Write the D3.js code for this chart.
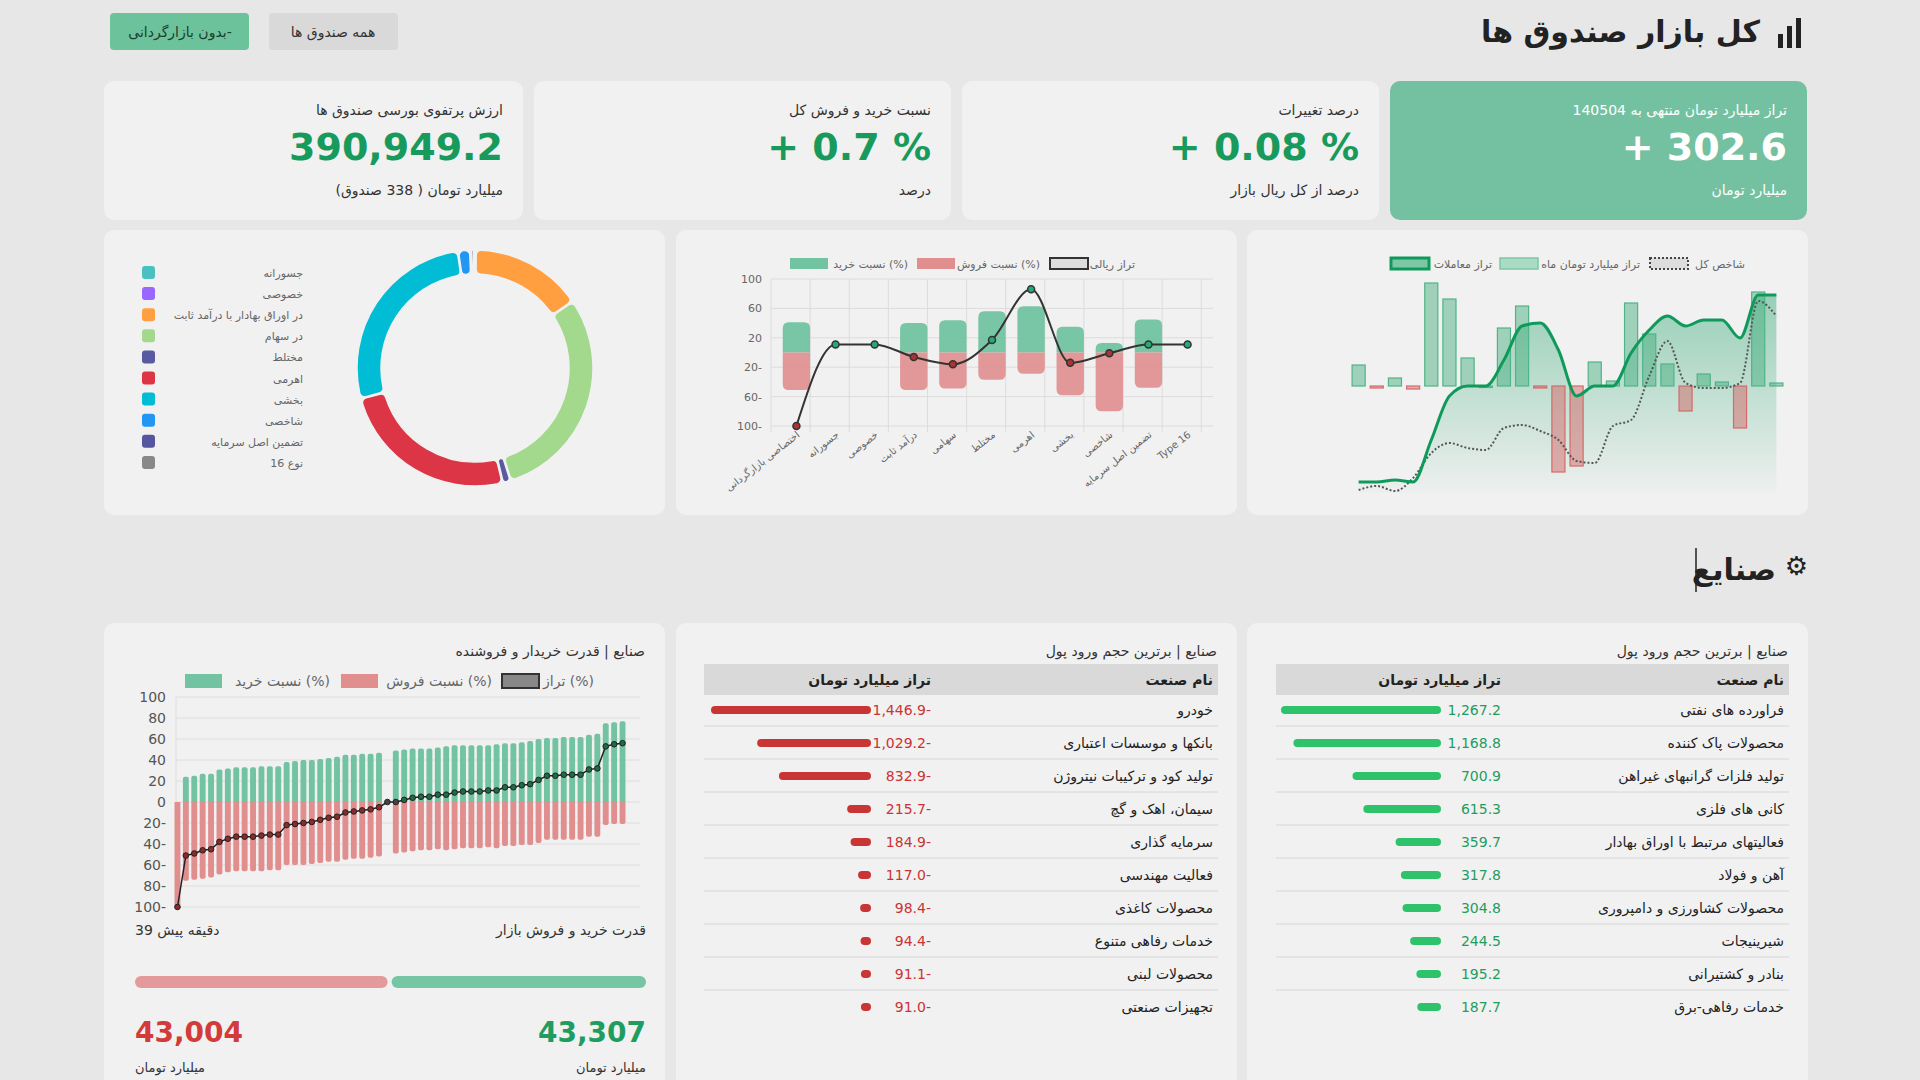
<!DOCTYPE html>
<html><head><meta charset="utf-8">
<script src="https://cdn.jsdelivr.net/npm/d3@7"></script>
<style>body{margin:0;background:#e7e7e7;font-family:"DejaVu Sans",sans-serif}svg text{font-family:"DejaVu Sans",sans-serif}</style>
</head><body><svg id="c" width="1920" height="1080"></svg>
<script>
// ---------- data ----------
const kpiTitles=["ارزش پرتفوی بورسی صندوق ها","نسبت خرید و فروش کل","درصد تغییرات","تراز میلیارد تومان منتهی به 140504"];
const kpiValues=["390,949.2","+ 0.7 %","+ 0.08 %","+ 302.6"];
const kpiSubs=["میلیارد تومان ( 338 صندوق)","درصد","درصد از کل ریال بازار","میلیارد تومان"];

const donutLabels=["جسورانه","خصوصی","در اوراق بهادار با درآمد ثابت","در سهام","مختلط","اهرمی","بخشی","شاخصی","تضمین اصل سرمایه","نوع 16"];
const donutValues=[0.4,0.3,55,106,4,88,96,6,1.5,0.4];
const donutColors=["#4bc0c0","#9966ff","#ff9f40","#a2d98c","#5a5aa0","#dc3545","#00bcd4","#2196f3","#5555a0","#888888"];
const donutOrder=[1,2,3,4,5,6,7,0,8,9];

const typeCats=["اختصاصی بازارگردانی","جسورانه","خصوصی","درآمد ثابت","سهامی","مختلط","اهرمی","بخشی","شاخصی","تضمین اصل سرمایه","Type 16"];
const typeBuy=[41,null,null,40,44,56,63,35,13,45,null];
const typeSell=[51,null,null,51,49,37,29,58,80,48,null];
const typeNet=[-100,11,11,-6,-16,17,86,-14,-1,11,11];

const mBars=[21,-2,8,-3,103,87,28,0,58,80,-2,-86,-80,24,5,83,52,22,-25,12,4,-42,94,3];
const mLine=[11,11,13,11,53,97,107,107,133,167,170,143,97,107,107,140,163,177,167,173,173,155,198,198];
const mIndex=[3,7,2,15,40,50,45,43,65,68,62,53,32,30,67,73,117,152,110,105,105,110,192,177];

const inNames=["فراورده های نفتی","محصولات پاک کننده","تولید فلزات گرانبهای غیراهن","کانی های فلزی","فعالیتهای مرتبط با اوراق بهادار","آهن و فولاد","محصولات کشاورزی و دامپروری","شیرینیجات","بنادر و کشتیرانی","خدمات رفاهی-برق"];
const inVals=[1267.2,1168.8,700.9,615.3,359.7,317.8,304.8,244.5,195.2,187.7];
const outNames=["خودرو","بانکها و موسسات اعتباری","تولید کود و ترکیبات نیتروژن","سیمان، اهک و گچ","سرمایه گذاری","فعالیت مهندسی","محصولات کاغذی","خدمات رفاهی متنوع","محصولات لبنی","تجهیزات صنعتی"];
const outVals=[-1446.9,-1029.2,-832.9,-215.7,-184.9,-117.0,-98.4,-94.4,-91.1,-91.0];

const pBuy=[0,24,25,27,27,31,32,33,33,33,34,34,34,38,39,40,40,41,42,43,45,45,46,46,47,0,49,50,51,51,51,52,53,54,54,54,54,54,55,56,56,57,58,60,61,61,62,62,62,64,65,75,76,77];
const pNet=[-100,-51,-49,-46,-45,-38,-35,-33,-33,-33,-32,-31,-31,-22,-21,-20,-19,-17,-15,-14,-10,-9,-8,-7,-5,0,0,2,4,5,5,7,7,9,10,10,10,11,11,14,14,16,17,21,25,25,26,26,26,31,32,53,55,56];
const yTicks=[100,80,60,40,20,0,-20,-40,-60,-80,-100];

// ---------- drawing ----------
const svg=d3.select("#c");
const G="#1f9d60",GL="#72c3a2",R="#e08e8e",RD="#cc3333";
const lab=v=>v<0?(Math.abs(v))+"-":String(v);
function card(x,y,w,h,f){svg.append("rect").attr("x",x).attr("y",y).attr("width",w).attr("height",h).attr("rx",10).attr("fill",f||"#f1f1f1");}
function txt(x,y,s,o){const t=svg.append("text").attr("x",x).attr("y",y).text(s).attr("text-anchor",o.a||"end").attr("font-size",o.s||13).attr("fill",o.c||"#333").attr("font-weight",o.w||"normal");if(o.r)t.attr("transform",`rotate(${o.r},${x},${y})`);return t;}

// header
txt(1760,42,"کل بازار صندوق ها",{s:30,w:"bold",c:"#222"});
[[1778,14],[1787,22],[1796,30]].forEach(([x,h])=>svg.append("rect").attr("x",x).attr("y",48-h).attr("width",5).attr("height",h).attr("fill","#222"));
svg.append("rect").attr("x",110).attr("y",13).attr("width",139).attr("height",37).attr("rx",4).attr("fill","#6cc29b");
txt(180,37,"بدون بازارگردانی-",{a:"middle",s:14,c:"#1d3d2d"});
svg.append("rect").attr("x",269).attr("y",13).attr("width",129).attr("height",37).attr("rx",4).attr("fill","#d9d9d9");
txt(333,37,"همه صندوق ها",{a:"middle",s:14,c:"#333"});

// KPI
const kx=[104,534,962,1390];
kx.forEach((x,i)=>{const w=i==0?419:417,green=i==3;card(x,81,w,139,green?"#74c1a1":"#f1f1f1");
 txt(x+w-20,115,kpiTitles[i],{s:14,c:green?"#fff":"#333"});
 txt(x+w-20,160,kpiValues[i],{s:38,w:"bold",c:green?"#fff":"#179a5c"});
 txt(x+w-20,195,kpiSubs[i],{s:14,c:green?"#fff":"#333"});});

// chart cards
card(104,230,561,285);card(676,230,561,285);card(1247,230,561,285);

// donut
const pie=d3.pie().sort(null).value(d=>donutValues[d]);
const arc=d3.arc().innerRadius(94).outerRadius(118).cornerRadius(5).padAngle(0.008);
const dg=svg.append("g").attr("transform","translate(475,368)");
dg.selectAll("path").data(pie(donutOrder)).join("path").attr("d",arc).attr("fill",d=>donutColors[d.data]).attr("stroke","#f1f1f1").attr("stroke-width",1.5);
donutLabels.forEach((l,i)=>{const y=273+i*21.1;
 svg.append("rect").attr("x",142).attr("y",y-7).attr("width",13).attr("height",13).attr("rx",3).attr("fill",donutColors[i]);
 txt(303,y+4,l,{s:11,c:"#666"});});

// fund-type chart
const xb=d3.scaleBand().domain(typeCats).range([771,1213]).padding(0.3);
const yt=d3.scaleLinear().domain([-100,100]).range([426,279]);
const tg=svg.append("g");
[100,60,20,-20,-60,-100].forEach(v=>{tg.append("line").attr("x1",771).attr("x2",1213).attr("y1",yt(v)).attr("y2",yt(v)).attr("stroke","#dcdcdc");
 txt(762,yt(v)+4,lab(v),{s:11,c:"#666"});});
d3.range(12).forEach(i=>tg.append("line").attr("x1",771+i*xb.step()).attr("x2",771+i*xb.step()).attr("y1",279).attr("y2",432).attr("stroke","#dcdcdc"));
typeCats.forEach((c,i)=>{if(typeBuy[i]!=null){
 tg.append("path").attr("d",roundTop(xb(c),yt(typeBuy[i]),xb.bandwidth(),yt(0)-yt(typeBuy[i]),6)).attr("fill",GL).attr("opacity",.95);
 tg.append("path").attr("d",roundBot(xb(c),yt(0),xb.bandwidth(),yt(-typeSell[i])-yt(0),6)).attr("fill",R).attr("opacity",.9);}
 txt(xb(c)+xb.bandwidth()/2+4,436,c,{s:10,c:"#666",r:-38});});
function roundTop(x,y,w,h,r){return `M${x},${y+h}V${y+r}Q${x},${y} ${x+r},${y}H${x+w-r}Q${x+w},${y} ${x+w},${y+r}V${y+h}Z`;}
function roundBot(x,y,w,h,r){return `M${x},${y}V${y+h-r}Q${x},${y+h} ${x+r},${y+h}H${x+w-r}Q${x+w},${y+h} ${x+w},${y+h-r}V${y}Z`;}
const cx=c=>xb(c)+xb.bandwidth()/2;
tg.append("path").attr("d",d3.line().x((d,i)=>cx(typeCats[i])).y(d=>yt(d)).curve(d3.curveMonotoneX)(typeNet)).attr("fill","none").attr("stroke","#333").attr("stroke-width",2);
typeNet.forEach((v,i)=>tg.append("circle").attr("cx",cx(typeCats[i])).attr("cy",yt(v)).attr("r",3.5).attr("fill",v<0?"#a33":"#2a7").attr("stroke","#333").attr("stroke-width",1.5));
// legend
svg.append("rect").attr("x",790).attr("y",258).attr("width",38).attr("height",11).attr("fill",GL);
txt(908,268,"نسبت خرید (%)",{s:11,c:"#666"});
svg.append("rect").attr("x",917).attr("y",258).attr("width",38).attr("height",11).attr("fill",R);
txt(1040,268,"نسبت فروش (%)",{s:11,c:"#666"});
svg.append("rect").attr("x",1050).attr("y",258).attr("width",38).attr("height",11).attr("fill","#ddd").attr("stroke","#333").attr("stroke-width",2);
txt(1135,268,"تراز ریالی",{s:11,c:"#666"});

// market chart
const xm=d3.scaleBand().domain(d3.range(mBars.length)).range([1347,1788]).padding(0.28);
const yBar=d3.scaleLinear().domain([-107,100]).range([493,286]);
const yLn=d3.scaleLinear().domain([0,200]).range([493,293]);
const defs=svg.append("defs");
const gr=defs.append("linearGradient").attr("id","mg").attr("x1",0).attr("x2",0).attr("y1",0).attr("y2",1);
gr.append("stop").attr("offset","0%").attr("stop-color","#2aa570").attr("stop-opacity",.45);
gr.append("stop").attr("offset","100%").attr("stop-color","#2aa570").attr("stop-opacity",0.02);
const mg=svg.append("g"),mx=i=>xm(i)+xm.bandwidth()/2;
mg.append("path").attr("d",d3.area().x((d,i)=>mx(i)).y0(493).y1(d=>yLn(d)).curve(d3.curveMonotoneX)(mLine)).attr("fill","url(#mg)");
mBars.forEach((v,i)=>{const y0=yBar(0),y1=yBar(v);
 mg.append("rect").attr("x",xm(i)).attr("width",xm.bandwidth()).attr("y",Math.min(y0,y1)).attr("height",Math.max(1.5,Math.abs(y1-y0)))
 .attr("fill",v>=0?"rgba(60,170,120,0.45)":"rgba(210,90,90,0.45)").attr("stroke",v>=0?"#4fb487":"#d46a6a").attr("stroke-width",1.2);});
mg.append("path").attr("d",d3.line().x((d,i)=>mx(i)).y(d=>yLn(d)).curve(d3.curveMonotoneX)(mIndex)).attr("fill","none").attr("stroke","#555").attr("stroke-width",2).attr("stroke-dasharray","2,2");
mg.append("path").attr("d",d3.line().x((d,i)=>mx(i)).y(d=>yLn(d)).curve(d3.curveMonotoneX)(mLine)).attr("fill","none").attr("stroke","#0f9a5c").attr("stroke-width",3);
svg.append("rect").attr("x",1391).attr("y",258).attr("width",38).attr("height",11).attr("fill","#7cc7a6").attr("stroke","#0f9a5c").attr("stroke-width",3);
txt(1492,268,"تراز معاملات",{s:11,c:"#666"});
svg.append("rect").attr("x",1500).attr("y",258).attr("width",38).attr("height",11).attr("fill","#a9dcc3").attr("stroke","#7cc7a6").attr("stroke-width",1.5);
txt(1640,268,"تراز میلیارد تومان ماه",{s:11,c:"#666"});
svg.append("rect").attr("x",1650).attr("y",258).attr("width",38).attr("height",11).attr("fill","#ddd").attr("stroke","#444").attr("stroke-width",2).attr("stroke-dasharray","2,2");
txt(1745,268,"شاخص کل",{s:11,c:"#666"});

// industries heading
txt(1776,580,"صنایع",{s:30,w:"bold",c:"#222"});
txt(1808,575,"⚙",{s:26,c:"#222"});
svg.append("line").attr("x1",1696).attr("x2",1696).attr("y1",548).attr("y2",592).attr("stroke","#222").attr("stroke-width",1.5);

card(104,623,561,470);card(676,623,561,470);card(1247,623,561,470);

// tables
function table(x0,x1,valRight,barRight,names,vals,color){
 txt(x1+4,656,"صنایع | برترین حجم ورود پول",{s:14,c:"#333"});
 svg.append("rect").attr("x",x0).attr("y",664).attr("width",x1-x0+5).attr("height",31).attr("fill","#d9d9d9");
 txt(x1,685,"نام صنعت",{s:14,w:"bold",c:"#222"});txt(valRight,685,"تراز میلیارد تومان",{s:14,w:"bold",c:"#222"});
 const s=d3.scaleLinear().domain([0,d3.max(vals,Math.abs)]).range([0,160]);
 names.forEach((n,i)=>{const y=710+i*33;
  txt(x1,y+5,n,{s:14,c:"#222"});
  txt(valRight,y+5,vals[i]<0?Math.abs(vals[i]).toFixed(1).replace(/\B(?=(\d{3})+(?!\d))/g,",")+"-":vals[i].toLocaleString("en-US",{minimumFractionDigits:1}),{s:14,c:vals[i]<0?RD:G});
  svg.append("rect").attr("x",barRight-s(Math.abs(vals[i]))).attr("y",y-4).attr("width",s(Math.abs(vals[i]))).attr("height",8).attr("rx",4).attr("fill",color);
  if(i<names.length-1)svg.append("line").attr("x1",x0).attr("x2",x1+5).attr("y1",y+16).attr("y2",y+16).attr("stroke","#d6d6d6");});}
table(1276,1784,1501,1441,inNames,inVals,"#2ec36b");
table(704,1213,931,871,outNames,outVals,"#c93535");

// buyer/seller power
txt(645,656,"صنایع | قدرت خریدار و فروشنده",{s:14,c:"#333"});
const xp=d3.scaleBand().domain(d3.range(pBuy.length)).range([172,628]).padding(0.3);
const yp=d3.scaleLinear().domain([-100,100]).range([907,697]);
const pg=svg.append("g");
yTicks.forEach(v=>{pg.append("line").attr("x1",176).attr("x2",640).attr("y1",yp(v)).attr("y2",yp(v)).attr("stroke","#dedede");
 txt(166,yp(v)+5,lab(v),{s:14,c:"#555"});});
pg.append("line").attr("x1",176).attr("x2",176).attr("y1",697).attr("y2",907).attr("stroke","#dedede");
pBuy.forEach((b,i)=>{const sell=b-pNet[i];
 if(b>0)pg.append("path").attr("d",roundTop(xp(i),yp(b),xp.bandwidth(),yp(0)-yp(b),2)).attr("fill",GL);
 if(sell>0)pg.append("path").attr("d",roundBot(xp(i),yp(0),xp.bandwidth(),yp(-sell)-yp(0),2)).attr("fill",R);});
const px=i=>xp(i)+xp.bandwidth()/2;
pg.append("path").attr("d",d3.line().x((d,i)=>px(i)).y(d=>yp(d))(pNet)).attr("fill","none").attr("stroke","#222").attr("stroke-width",1.5);
pNet.forEach((v,i)=>pg.append("circle").attr("cx",px(i)).attr("cy",yp(v)).attr("r",2.8).attr("fill",v<0?"#8a2b2b":v>0?"#1f6b45":"#444").attr("stroke","#222").attr("stroke-width",1));
svg.append("rect").attr("x",185).attr("y",674).attr("width",37).attr("height",14).attr("fill",GL);
txt(330,686,"نسبت خرید (%)",{s:14,c:"#666"});
svg.append("rect").attr("x",341).attr("y",674).attr("width",37).attr("height",14).attr("fill",R);
txt(492,686,"نسبت فروش (%)",{s:14,c:"#666"});
svg.append("rect").attr("x",502).attr("y",674).attr("width",37).attr("height",14).attr("fill","#888").attr("stroke","#333").attr("stroke-width",2);
txt(594,686,"تراز (%)",{s:14,c:"#666"});
txt(646,935,"قدرت خرید و فروش بازار",{s:14,c:"#333"});
txt(135,935,"39 دقیقه پیش",{a:"start",s:14,c:"#333"});
const buyT=43307,sellT=43004;
const ps=d3.scaleLinear().domain([0,buyT+sellT]).range([135,646]);
svg.append("rect").attr("x",ps(0)).attr("y",976).attr("width",ps(sellT)-ps(0)-2).attr("height",12).attr("rx",6).attr("fill","#e29a9a");
svg.append("rect").attr("x",ps(sellT)+2).attr("y",976).attr("width",ps(buyT+sellT)-ps(sellT)-2).attr("height",12).attr("rx",6).attr("fill","#76c6a3");
txt(135,1042,d3.format(",")(sellT),{a:"start",s:28,w:"bold",c:"#d33a3a"});
txt(646,1042,d3.format(",")(buyT),{s:28,w:"bold",c:"#1f9d60"});
txt(135,1072,"میلیارد تومان",{a:"start",s:13,c:"#333"});
txt(646,1072,"میلیارد تومان",{s:13,c:"#333"});
</script></body></html>
